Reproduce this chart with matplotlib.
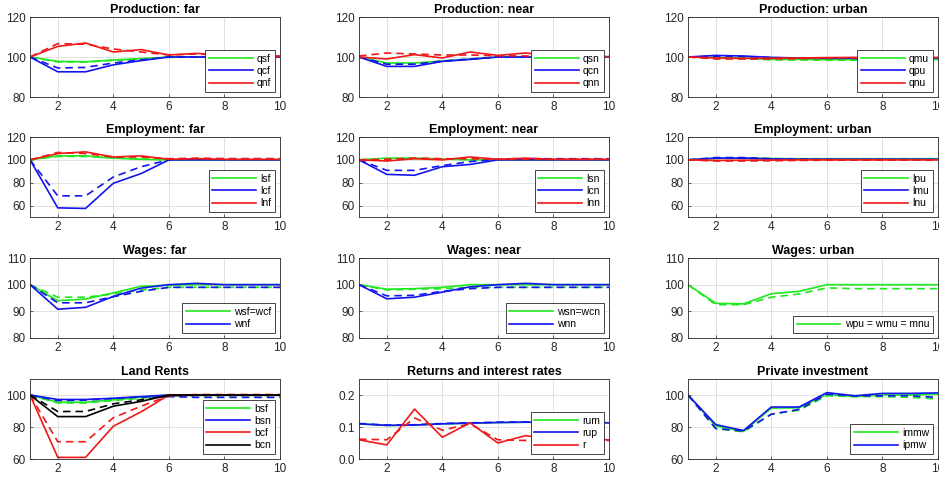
import numpy as np
import matplotlib.pyplot as plt

plt.rcParams['font.family'] = ['Liberation Sans', 'DejaVu Sans']

periods = np.arange(1, 11)

# Production (solid = baseline, dashed = alternative)
qsf = [100, 97.8, 97.6, 98.5, 99.2, 100, 100, 100, 100, 100]
qsf_alt = [100, 97.5, 97.5, 98.3, 99.0, 99.8, 100, 100, 100, 100]
qcf = [100, 92.6, 92.6, 96.1, 98.2, 100, 100, 100, 100, 100]
qcf_alt = [100, 94.5, 94.8, 97.0, 98.6, 100, 100, 100, 100, 100]
qnf = [100, 105.3, 107.0, 102.5, 103.7, 101.0, 101.8, 100.8, 100.6, 100.2]
qnf_alt = [100, 106.7, 106.4, 104.0, 102.5, 101.0, 101.5, 101.0, 100.8, 100.5]

qsn = [100, 97.0, 97.0, 98.0, 99.0, 100, 100, 100, 100, 100]
qsn_alt = [100, 96.5, 96.5, 97.8, 98.8, 100, 100, 100, 100, 100]
qcn = [100, 95.3, 95.3, 97.8, 98.8, 100, 100, 100, 100, 100]
qcn_alt = [100, 96.4, 96.4, 98.0, 99.0, 100, 100, 100, 100, 100]
qnn = [100, 99.0, 101.2, 99.5, 102.5, 100.8, 102.0, 100.5, 100.5, 100.2]
qnn_alt = [100.5, 102.0, 101.5, 101.0, 101.0, 100.6, 100.5, 100.5, 100.5, 100.5]

qmu = [100, 99.8, 99.5, 98.8, 98.8, 98.7, 98.7, 98.7, 98.7, 98.7]
qmu_alt = [100, 99.5, 99.2, 98.6, 98.5, 98.4, 98.4, 98.4, 98.4, 98.4]
qpu = [100, 100.8, 100.5, 99.8, 99.5, 99.4, 99.4, 99.5, 99.5, 99.5]
qpu_alt = [100, 100.4, 100.2, 99.7, 99.4, 99.3, 99.3, 99.4, 99.4, 99.4]
qnu = [100, 99.5, 99.3, 99.4, 99.5, 99.7, 99.8, 99.8, 99.8, 99.8]
qnu_alt = [100, 99.0, 99.0, 99.0, 99.2, 99.5, 99.6, 99.6, 99.6, 99.6]

# Employment
lsf = [100, 103.5, 103.5, 101.5, 100.5, 100, 100, 100, 100, 100]
lsf_alt = [100, 103.0, 103.0, 101.8, 100.8, 100.2, 100, 100, 100, 100]
lcf = [100, 58.0, 57.5, 79.5, 88.0, 100, 100, 100, 100, 100]
lcf_alt = [100, 68.5, 68.5, 85.0, 94.0, 100, 101, 101, 101, 101]
lnf = [100, 105.5, 107.0, 102.5, 103.5, 100.5, 101.0, 100.5, 100.5, 100.5]
lnf_alt = [100, 106.5, 105.5, 102.5, 102.5, 101.0, 101.5, 101.0, 101.0, 101.0]

lsn = [100, 101.5, 101.5, 100.8, 100, 100, 100, 100, 100, 100]
lsn_alt = [100, 101.0, 101.2, 100.8, 100.2, 100, 100, 100, 100, 100]
lcn = [100, 87.3, 86.5, 94.0, 96.0, 100, 100, 100, 100, 100]
lcn_alt = [100, 90.8, 90.8, 95.0, 98.5, 100.5, 101, 101, 101, 101]
lnn = [100, 99.0, 101.0, 100.0, 102.5, 100.5, 101.5, 100.5, 100.5, 100.5]
lnn_alt = [100, 100.5, 101.5, 101.0, 101.0, 100.5, 100.5, 100.5, 100.5, 100.5]

lpu = [100, 101.5, 101.5, 101.2, 101.0, 101.0, 101.0, 101.0, 101.0, 101.0]
lpu_alt = [100, 101.2, 101.2, 101.0, 100.8, 100.8, 100.8, 100.8, 100.8, 100.8]
lmu = [100, 101.5, 101.5, 100.8, 100.5, 100.5, 100.5, 100.5, 100.5, 100.5]
lmu_alt = [100, 102.0, 102.0, 101.0, 100.5, 100.3, 100.3, 100.3, 100.3, 100.3]
lnu = [100, 99.5, 99.7, 99.8, 100, 100, 100, 100, 100, 100]
lnu_alt = [100, 99.0, 99.0, 99.2, 99.5, 99.7, 99.8, 99.8, 99.8, 99.8]

# Wages
wsf = [100, 94.0, 94.6, 96.9, 99.4, 99.8, 100, 100, 100, 100]
wsf_alt = [100, 95.3, 95.3, 96.5, 98.0, 99.0, 99.0, 99.0, 99.0, 99.0]
wnf = [100, 90.8, 91.5, 95.6, 98.7, 100, 100.5, 100, 100, 100]
wnf_alt = [100, 93.2, 93.2, 95.5, 97.5, 99.0, 99.0, 99.0, 99.0, 99.0]

wsn = [100, 98.3, 98.5, 99.0, 100, 100, 100, 100, 100, 100]
wsn_alt = [100, 98.0, 98.3, 98.5, 99.0, 99.0, 99.0, 99.0, 99.0, 99.0]
wnn = [100, 94.7, 95.3, 97.2, 99.2, 100, 100.5, 100, 100, 100]
wnn_alt = [100, 95.8, 96.0, 97.5, 98.5, 99.0, 99.0, 99.0, 99.0, 99.0]

wpu = [100, 93.0, 92.8, 96.6, 97.5, 100, 100, 100, 100, 100]
wpu_alt = [100, 92.5, 92.5, 95.3, 96.5, 98.8, 98.5, 98.5, 98.5, 98.5]

# Land rents
bsf = [100, 95.5, 95.5, 97.0, 98.5, 100, 100, 100, 100, 100]
bsf_alt = [100, 95.0, 95.0, 96.5, 98.0, 99.5, 99.5, 99.5, 99.5, 99.5]
bsn = [100, 97.2, 97.2, 98.0, 99.0, 100, 100, 100, 100, 100]
bsn_alt = [100, 96.5, 96.8, 97.8, 98.8, 99.0, 98.5, 98.5, 98.5, 98.5]
bcf = [100, 61.0, 61.0, 80.5, 89.5, 100, 100, 100, 100, 100]
bcf_alt = [100, 70.8, 70.8, 85.8, 93.0, 99.5, 100.3, 100.3, 100.3, 100.3]
bcn = [100, 86.5, 86.5, 93.0, 96.0, 100, 100, 100, 100, 100]
bcn_alt = [100, 89.7, 89.7, 94.5, 97.0, 99.5, 99.8, 99.8, 99.8, 99.8]

# Returns and interest rates
rum = [0.110, 0.105, 0.106, 0.110, 0.112, 0.114, 0.115, 0.115, 0.115, 0.113]
rup = [0.110, 0.105, 0.106, 0.110, 0.112, 0.114, 0.115, 0.115, 0.115, 0.113]
rup_alt = [0.111, 0.106, 0.107, 0.111, 0.113, 0.115, 0.116, 0.116, 0.116, 0.115]
r = [0.060, 0.044, 0.156, 0.068, 0.113, 0.050, 0.073, 0.060, 0.062, 0.060]
r_alt = [0.062, 0.060, 0.128, 0.090, 0.110, 0.060, 0.058, 0.058, 0.056, 0.058]

# Private investment
immw = [100, 80.6, 77.2, 91.8, 92.0, 100.4, 99.0, 100.0, 100.0, 100.5]
immw_alt = [100, 79.0, 77.0, 88.0, 90.5, 99.5, 99.0, 99.0, 98.5, 97.5]
ipmw = [100, 81.5, 77.8, 92.5, 92.5, 101.5, 99.5, 101.0, 101.0, 101.3]
ipmw_alt = [100, 79.0, 77.5, 88.0, 91.0, 100.5, 99.5, 99.5, 99.5, 98.5]

GREEN = '#1ee81e'
BLUE = '#1414f0'
RED = '#f01818'
BLACK = '#000000'

panels = [
    ('Production: far', (80, 120), [80, 100, 120],
     [('qsf', GREEN, qsf, qsf_alt), ('qcf', BLUE, qcf, qcf_alt), ('qnf', RED, qnf, qnf_alt)]),
    ('Production: near', (80, 120), [80, 100, 120],
     [('qsn', GREEN, qsn, qsn_alt), ('qcn', BLUE, qcn, qcn_alt), ('qnn', RED, qnn, qnn_alt)]),
    ('Production: urban', (80, 120), [80, 100, 120],
     [('qmu', GREEN, qmu, qmu_alt), ('qpu', BLUE, qpu, qpu_alt), ('qnu', RED, qnu, qnu_alt)]),
    ('Employment: far', (50, 120), [60, 80, 100, 120],
     [('lsf', GREEN, lsf, lsf_alt), ('lcf', BLUE, lcf, lcf_alt), ('lnf', RED, lnf, lnf_alt)]),
    ('Employment: near', (50, 120), [60, 80, 100, 120],
     [('lsn', GREEN, lsn, lsn_alt), ('lcn', BLUE, lcn, lcn_alt), ('lnn', RED, lnn, lnn_alt)]),
    ('Employment: urban', (50, 120), [60, 80, 100, 120],
     [('lpu', GREEN, lpu, lpu_alt), ('lmu', BLUE, lmu, lmu_alt), ('lnu', RED, lnu, lnu_alt)]),
    ('Wages: far', (80, 110), [80, 90, 100, 110],
     [('wsf=wcf', GREEN, wsf, wsf_alt), ('wnf', BLUE, wnf, wnf_alt)]),
    ('Wages: near', (80, 110), [80, 90, 100, 110],
     [('wsn=wcn', GREEN, wsn, wsn_alt), ('wnn', BLUE, wnn, wnn_alt)]),
    ('Wages: urban', (80, 110), [80, 90, 100, 110],
     [('wpu = wmu = mnu', GREEN, wpu, wpu_alt)]),
    ('Land Rents', (60, 110), [60, 80, 100],
     [('bsf', GREEN, bsf, bsf_alt), ('bsn', BLUE, bsn, bsn_alt),
      ('bcf', RED, bcf, bcf_alt), ('bcn', BLACK, bcn, bcn_alt)]),
    ('Returns and interest rates', (0, 0.25), [0, 0.1, 0.2],
     [('rum', GREEN, rum, None), ('rup', BLUE, rup, rup_alt), ('r', RED, r, r_alt)]),
    ('Private investment', (60, 110), [60, 80, 100],
     [('immw', GREEN, immw, immw_alt), ('ipmw', BLUE, ipmw, ipmw_alt)]),
]

fig = plt.figure(figsize=(9.39, 4.8), dpi=100)

col_left = [30, 359, 688]
row_top = [17, 137, 258, 379]
ax_w, ax_h = 250, 80
W, H = 939, 480

for i, (title, ylim, yticks, series) in enumerate(panels):
    row, col = divmod(i, 3)
    left = col_left[col] / W
    bottom = 1 - (row_top[row] + ax_h) / H
    ax = fig.add_axes([left, bottom, ax_w / W, ax_h / H])

    for name, color, solid, dashed in series:
        ax.plot(periods, solid, color=color, lw=1.2, label=name)
        if dashed is not None:
            ax.plot(periods, dashed, color=color, lw=1.2, ls=(0, (4.5, 3)))

    ax.set_xlim(1, 10)
    ax.set_ylim(*ylim)
    ax.set_xticks([2, 4, 6, 8, 10])
    ax.set_yticks(yticks)
    ax.grid(True, color='#dcdcdc', lw=0.6)
    ax.set_axisbelow(True)
    ax.tick_params(direction='in', length=2.5, width=0.5, labelsize=8.5,
                   colors='#262626', pad=3)
    for spine in ax.spines.values():
        spine.set_color('#262626')
        spine.set_linewidth(0.6)
    ax.set_title(title, fontsize=9, fontweight='bold', pad=3)

    leg = ax.legend(loc='lower right', fontsize=7.5, handlelength=4.2,
                    borderaxespad=0.5, labelspacing=0.2, handletextpad=0.4,
                    fancybox=False, framealpha=1, borderpad=0.35)
    leg.get_frame().set_edgecolor('#262626')
    leg.get_frame().set_linewidth(0.6)

fig.savefig('out.png', dpi=100)
